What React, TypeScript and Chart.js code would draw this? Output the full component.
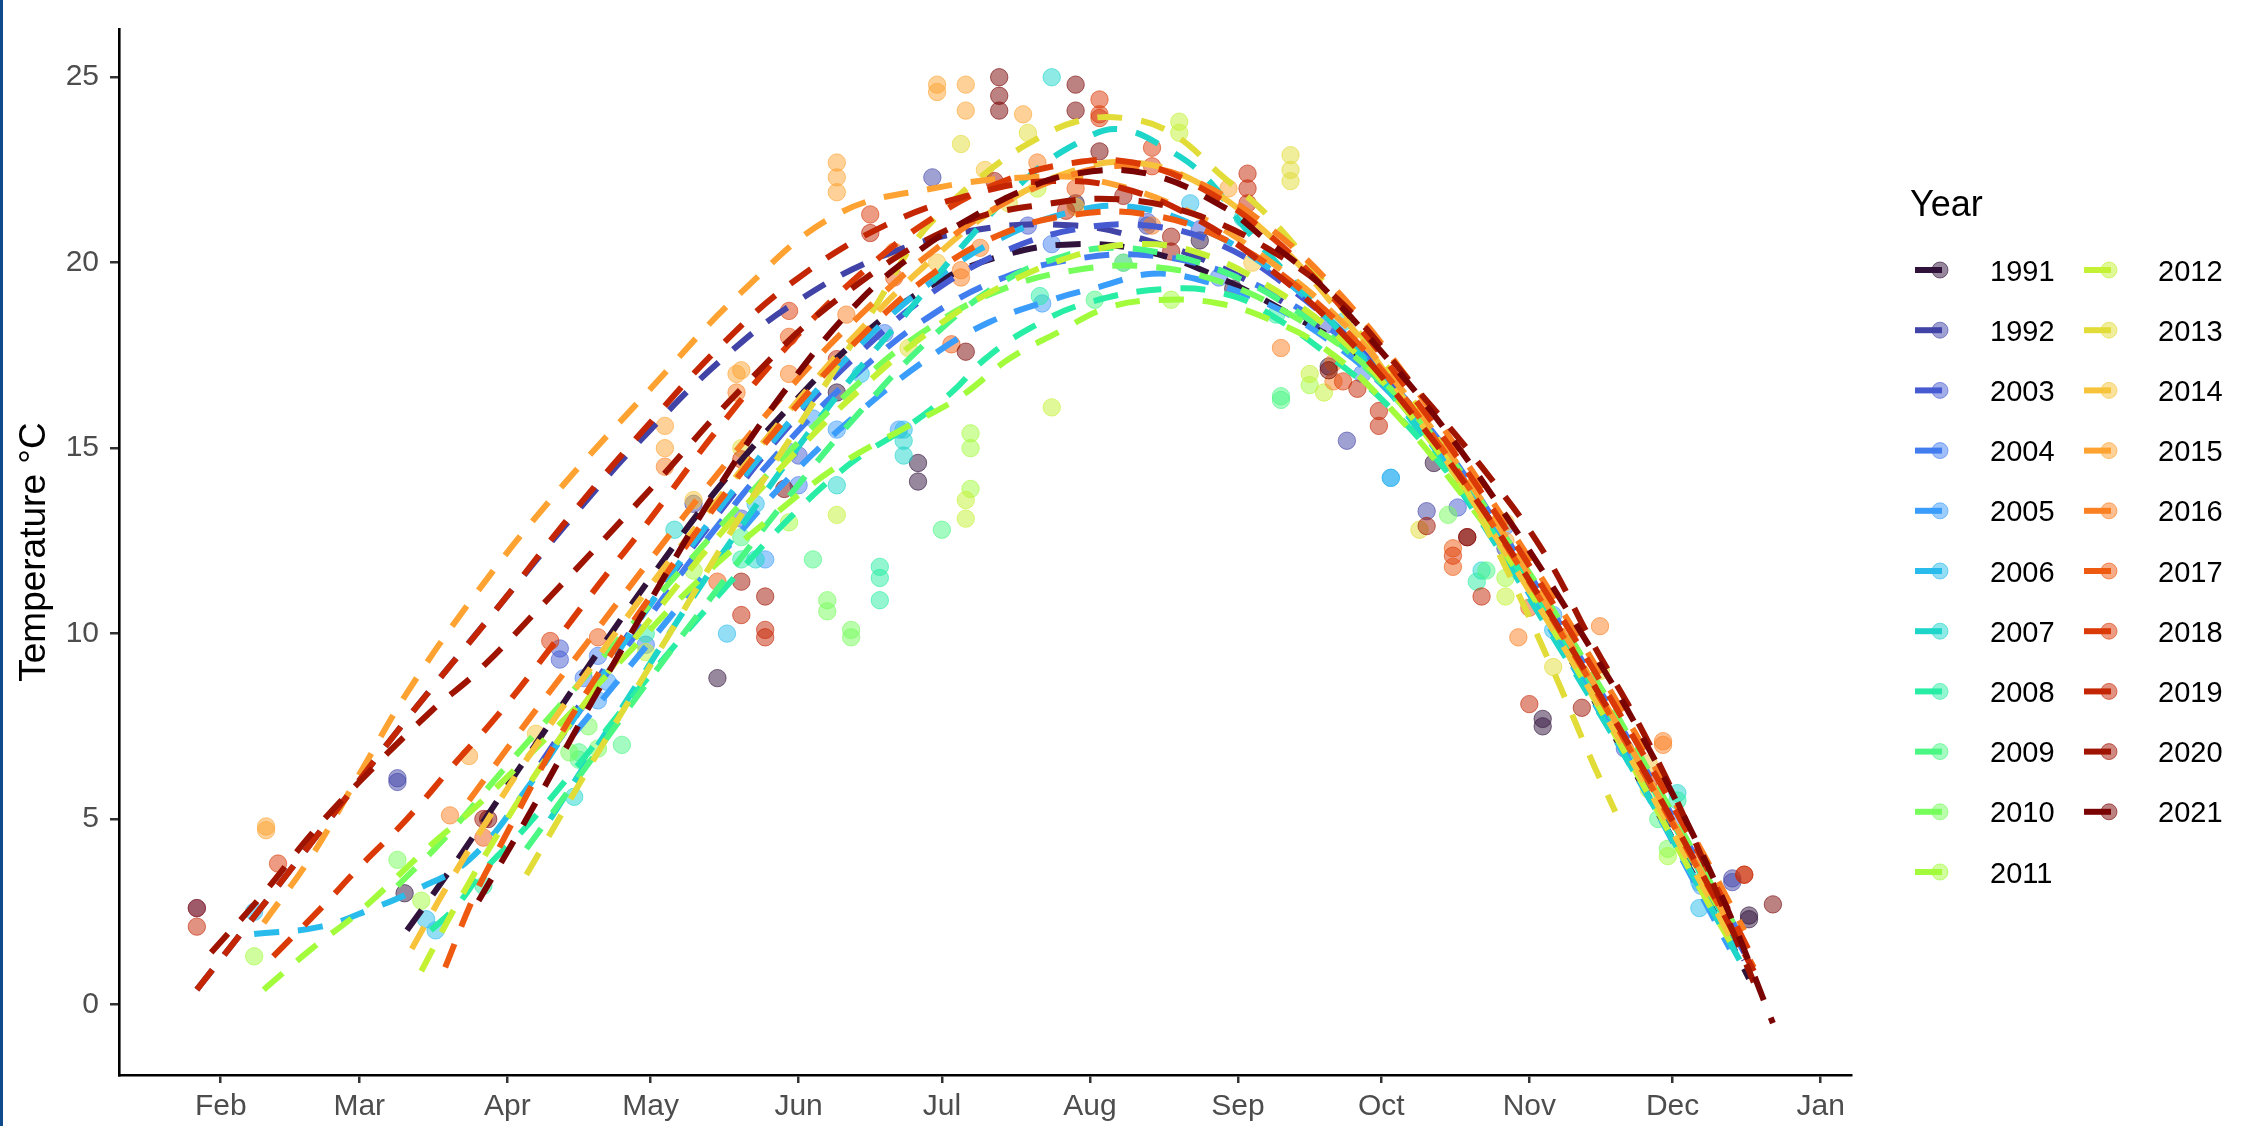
import React, { useEffect, useRef } from 'react';
import { Chart, registerables } from 'chart.js';

Chart.register(...registerables);

// ---------- data (day of year, leap-year based: Jan 1 = 0) ----------
const MONTH_DAYS = [31, 60, 91, 121, 152, 182, 213, 244, 274, 305, 335, 366];
const MONTH_LABELS = ['Feb', 'Mar', 'Apr', 'May', 'Jun', 'Jul', 'Aug', 'Sep', 'Oct', 'Nov', 'Dec', 'Jan'];
const Y_TICKS = [0, 5, 10, 15, 20, 25];

const YEARS = [1991, 1992, 2003, 2004, 2005, 2006, 2007, 2008, 2009, 2010, 2011, 2012, 2013, 2014, 2015, 2016, 2017, 2018, 2019, 2020, 2021];
const COLORS = ['#30123B', '#4143A7', '#465BD1', '#427DF0', '#3A9CFB', '#28BBEC', '#1ED5C9', '#28EDA4', '#4AF783', '#76FE5B', '#A2FC3C', '#C4F134', '#E1DC37', '#F6C33A', '#FEA331', '#FB8022', '#EF5A11', '#DB3A07', '#C42503', '#9F1301', '#7A0403'];

// fitted curves [day, °C]
const fit1991 = [[70, 2.0], [80, 3.8], [90, 5.7], [100, 7.6], [110, 9.5], [121, 11.5], [135, 13.9], [150, 16.1], [165, 18.0], [180, 19.4], [195, 20.2], [210, 20.5], [225, 20.3], [240, 19.6], [255, 18.6], [270, 17.4], [285, 15.3], [300, 12.3], [315, 9.0], [330, 5.6], [345, 2.2], [351, 0.7]];
const fit1992 = [[26, 0.4], [40, 2.7], [55, 5.2], [70, 7.7], [89, 10.7], [105, 13.2], [121, 15.5], [136, 17.4], [151, 18.9], [170, 20.2], [190, 20.9], [210, 21.0], [225, 20.6], [240, 19.9], [255, 18.8], [270, 17.3], [285, 15.2], [300, 12.4], [315, 9.2], [330, 5.9], [345, 2.4], [350, 1.2]];
const fit2003 = [[98, 6.5], [110, 8.8], [121, 10.8], [135, 13.2], [150, 15.6], [165, 17.6], [180, 19.2], [195, 20.3], [210, 20.9], [225, 21.0], [240, 20.5], [255, 19.3], [270, 17.6], [285, 15.3], [300, 12.5], [315, 9.4], [330, 6.1], [345, 2.6], [350, 1.4]];
const fit2004 = [[100, 6.8], [110, 8.6], [121, 10.5], [135, 12.9], [150, 15.2], [165, 17.1], [180, 18.6], [195, 19.6], [210, 20.1], [225, 20.2], [240, 19.8], [255, 18.9], [270, 17.5], [285, 15.4], [300, 12.6], [315, 9.5], [330, 6.2], [345, 2.8], [349, 1.9]];
const fit2005 = [[105, 7.3], [121, 9.8], [135, 12.0], [150, 14.2], [165, 16.0], [180, 17.5], [192, 18.4], [205, 19.0], [215, 19.35], [226, 19.7], [237, 19.5], [250, 18.9], [262, 18.0], [275, 16.6], [290, 14.3], [305, 11.3], [320, 8.0], [335, 4.4], [347, 1.5]];
const fit2006 = [[38, 1.9], [52, 2.1], [63, 2.6], [72, 3.1], [83, 3.9], [95, 5.8], [108, 8.3], [121, 10.8], [135, 13.3], [150, 15.7], [165, 17.8], [180, 19.5], [195, 20.7], [210, 21.4], [222, 21.5], [235, 21.0], [250, 19.9], [265, 18.2], [280, 15.9], [295, 13.1], [310, 10.0], [325, 6.7], [340, 3.3], [348, 1.5]];
const fit2007 = [[100, 5.0], [115, 8.0], [130, 11.0], [145, 13.8], [160, 16.4], [175, 18.7], [188, 20.7], [200, 22.3], [210, 23.2], [219, 23.6], [230, 23.0], [238, 22.2], [245, 21.0], [255, 19.6], [265, 18.2], [280, 15.8], [295, 13.0], [310, 9.9], [325, 6.7], [340, 3.3], [349, 1.2]];
const fit2008 = [[75, 2.0], [80, 2.6], [86, 3.6], [95, 4.8], [108, 6.8], [121, 8.9], [135, 11.0], [150, 13.1], [163, 14.6], [175, 15.6], [184, 16.5], [191, 17.4], [200, 18.2], [212, 18.9], [230, 19.3], [243, 19.1], [252, 18.5], [262, 17.6], [275, 16.2], [290, 14.0], [305, 11.3], [320, 8.2], [335, 4.9], [348, 1.8]];
const fit2009 = [[95, 4.2], [108, 6.5], [121, 8.8], [135, 11.2], [150, 13.7], [165, 16.0], [180, 18.0], [195, 19.5], [208, 20.2], [218, 20.4], [230, 20.2], [242, 19.7], [255, 18.8], [268, 17.5], [282, 15.6], [297, 13.0], [312, 9.9], [327, 6.7], [342, 3.2], [349, 1.6]];
const fit2010 = [[68, 3.2], [78, 4.5], [90, 6.3], [105, 8.5], [121, 10.8], [135, 12.8], [150, 14.9], [165, 16.8], [180, 18.3], [195, 19.3], [210, 19.8], [225, 19.9], [240, 19.5], [255, 18.6], [270, 17.3], [285, 15.3], [300, 12.6], [315, 9.6], [330, 6.3], [345, 2.8], [349, 1.9]];
const fit2011 = [[40, 0.4], [50, 1.5], [60, 2.5], [75, 4.3], [85, 5.4], [100, 7.3], [115, 9.3], [130, 11.3], [145, 13.0], [160, 14.5], [175, 15.6], [186, 16.4], [196, 17.4], [206, 18.1], [217, 18.8], [229, 19.0], [240, 18.9], [250, 18.5], [262, 17.7], [275, 16.2], [290, 13.9], [305, 11.2], [320, 8.2], [335, 4.9], [347, 2.0]];
const fit2012 = [[73, 0.9], [80, 2.6], [90, 4.8], [100, 6.8], [110, 8.6], [121, 10.4], [135, 12.6], [150, 14.7], [165, 16.6], [180, 18.2], [195, 19.4], [210, 20.2], [222, 20.5], [235, 20.3], [250, 19.4], [265, 18.0], [280, 15.9], [295, 13.2], [310, 10.1], [325, 6.8], [340, 3.3], [347, 1.7]];
const fit2013 = [[95, 3.5], [110, 6.8], [125, 10.0], [140, 13.2], [155, 16.2], [168, 18.8], [176, 20.5], [183, 21.5], [192, 22.5], [200, 23.2], [210, 23.8], [220, 23.9], [230, 23.5], [241, 22.3], [250, 21.3], [260, 19.8], [270, 18.0], [280, 16.4], [290, 14.3], [300, 11.8], [310, 9.0], [318, 6.6], [323, 5.2]];
const fit2014 = [[71, 1.5], [78, 3.1], [86, 4.8], [95, 6.6], [108, 9.0], [121, 11.3], [135, 13.6], [150, 16.0], [165, 18.2], [180, 20.1], [195, 21.6], [210, 22.5], [222, 22.7], [235, 22.2], [250, 20.8], [265, 18.7], [280, 16.1], [295, 13.2], [310, 10.1], [325, 6.9], [340, 3.5], [348, 1.6]];
const fit2015 = [[40, 2.2], [50, 4.0], [60, 6.2], [70, 8.4], [84, 11.0], [100, 13.6], [121, 16.6], [140, 19.2], [160, 21.3], [180, 22.0], [200, 22.3], [215, 22.2], [235, 21.3], [250, 20.1], [265, 18.5], [280, 16.3], [295, 13.6], [310, 10.5], [325, 7.2], [340, 3.8], [348, 1.9]];
const fit2016 = [[83, 5.5], [95, 7.6], [108, 9.8], [121, 12.0], [135, 14.3], [150, 16.6], [165, 18.6], [180, 20.3], [195, 21.6], [210, 22.4], [222, 22.6], [235, 22.2], [250, 21.0], [265, 19.2], [280, 16.8], [295, 14.0], [310, 11.0], [325, 7.8], [340, 4.4], [350, 2.0]];
const fit2017 = [[78, 1.0], [84, 2.9], [90, 4.4], [100, 6.8], [110, 8.9], [121, 11.0], [135, 13.5], [150, 15.9], [165, 18.0], [180, 19.7], [195, 20.8], [210, 21.3], [225, 21.3], [240, 20.7], [255, 19.5], [270, 17.7], [285, 15.3], [300, 12.4], [315, 9.3], [330, 6.0], [345, 2.6], [352, 1.0]];
const fit2018 = [[42, 1.3], [52, 2.6], [60, 3.7], [70, 5.0], [80, 6.5], [89, 7.8], [100, 9.6], [110, 11.3], [121, 13.1], [135, 15.5], [150, 17.8], [165, 19.7], [180, 21.2], [195, 22.2], [210, 22.7], [222, 22.7], [235, 22.1], [250, 20.8], [265, 18.9], [280, 16.5], [295, 13.8], [310, 10.8], [325, 7.6], [340, 4.2], [352, 1.2]];
const fit2019 = [[26, 0.4], [40, 2.7], [55, 5.2], [70, 7.7], [89, 10.7], [105, 13.3], [121, 15.7], [136, 17.8], [151, 19.5], [170, 21.0], [190, 21.9], [205, 22.2], [220, 22.0], [235, 21.2], [250, 19.9], [265, 18.2], [280, 16.0], [295, 13.4], [310, 10.4], [325, 7.2], [340, 3.8], [352, 0.9]];
const fit2020 = [[29, 1.4], [40, 3.0], [50, 4.6], [60, 6.0], [75, 7.9], [85, 9.0], [100, 11.0], [121, 13.9], [140, 16.6], [160, 19.0], [185, 21.0], [205, 21.6], [220, 21.7], [235, 21.3], [250, 20.4], [265, 19.0], [280, 16.8], [295, 14.5], [308, 12.2], [318, 9.8], [329, 7.3], [339, 4.6], [352, 0.6]];
const fit2021 = [[85, 2.8], [95, 5.0], [108, 8.0], [121, 10.9], [135, 13.9], [150, 16.7], [165, 19.0], [178, 20.4], [188, 21.2], [198, 21.9], [210, 22.4], [225, 22.4], [241, 21.5], [250, 20.6], [258, 19.8], [265, 18.9], [272, 17.9], [285, 15.9], [300, 13.2], [315, 10.2], [330, 6.9], [345, 3.0], [356, -0.5]];

// observations [day, °C]
const obs1991 = [[69.5, 3.0], [135, 8.8], [160, 16.5], [177, 14.6], [177, 14.1], [210, 21.6], [236, 20.6], [243, 19.3], [263, 17.2], [285, 14.6], [307.8, 7.7], [307.8, 7.5], [351, 2.4], [351, 2.3]];
const obs1992 = [[26, 2.6], [68, 6.1], [68, 6.0], [130, 13.5], [180, 22.3], [225, 21.0], [266.8, 15.2], [283.5, 13.3], [300, 12.3], [347.5, 3.4], [347.5, 3.3]];
const obs2003 = [[102, 9.6], [102, 9.3], [140, 13.1], [152, 14.8], [200, 21.0], [225, 21.1], [236, 20.9], [262, 18.3], [290, 13.4], [325, 6.9]];
const obs2004 = [[107, 8.8], [110, 9.4], [120, 9.7], [150, 14.9], [152, 14.0], [170, 18.1], [205, 20.5], [240, 19.6], [270, 17.0], [300, 12.9], [336, 5.0]];
const obs2005 = [[110, 8.2], [112, 8.7], [145, 12.0], [155, 15.8], [160, 15.5], [173, 15.5], [203, 18.9], [220, 20.0], [276, 14.2], [310, 10.5], [341, 3.2]];
const obs2006 = [[38, 2.5], [74, 2.3], [76, 2.0], [137, 10.0], [143, 13.5], [165, 17.0], [174, 15.5], [234, 21.6], [276, 14.2], [310, 10.1], [340.6, 3.3], [340.6, 2.6]];
const obs2007 = [[105, 5.6], [126, 12.8], [143, 12.0], [160, 14.0], [174, 14.8], [174, 15.2], [205, 25.0], [245, 21.2], [266, 18.4], [295, 11.7], [336, 5.7]];
const obs2008 = [[86, 3.2], [120, 10.0], [140, 12.0], [169, 11.8], [169, 11.5], [169, 10.9], [202.5, 19.1], [252, 18.6], [294, 11.4], [336, 5.5]];
const obs2009 = [[106, 6.8], [106, 6.6], [115, 7.0], [140, 12.6], [155, 12.0], [182, 12.8], [214, 19.0], [253, 16.4], [253, 16.3], [296, 11.7], [332, 5.0]];
const obs2010 = [[68, 3.9], [104, 6.8], [108, 7.5], [110, 6.9], [158, 10.9], [158, 10.6], [163, 9.9], [163, 10.1], [220, 20.0], [288, 13.2], [334, 4.2]];
const obs2011 = [[38, 1.3], [73, 2.8], [130, 11.7], [150, 13.0], [188, 15.0], [188, 15.4], [188, 13.9], [230, 19.0], [259, 16.7], [300, 11.5], [334, 4.0]];
const obs2012 = [[120, 9.5], [160, 13.2], [187, 13.6], [187, 13.1], [202, 22.0], [205, 16.1], [231.7, 23.8], [231.7, 23.5], [259, 17.0], [262, 16.5], [300, 11.0], [330, 5.8]];
const obs2013 = [[140, 15.0], [175, 17.7], [186, 23.2], [196, 21.6], [200, 23.5], [255, 22.9], [255, 22.5], [255, 22.2], [282, 12.8], [310, 9.1], [320, 9.0]];
const obs2014 = [[97, 7.3], [130, 13.6], [181, 20.0], [191, 22.5], [210, 21.5], [247, 20.0], [300, 13.0], [330, 6.5]];
const obs2015 = [[40.5, 4.8], [40.5, 4.7], [83, 6.7], [124, 15.6], [124, 15.0], [139, 17.0], [140, 17.1], [160, 22.7], [160, 22.3], [160, 21.9], [181, 24.8], [181, 24.6], [187, 24.8], [187, 24.1], [199, 24.0], [242, 22.0], [300, 12.5]];
const obs2016 = [[79, 5.1], [124, 14.5], [139, 16.5], [150, 17.0], [162, 18.6], [172, 20.3], [186, 19.8], [186, 19.6], [190, 20.4], [202, 22.7], [226, 21.0], [253, 17.7], [264, 17.3], [264, 16.8], [302.7, 9.9], [319.8, 10.2], [333, 7.1], [333, 7.0]];
const obs2017 = [[86, 4.5], [110, 9.9], [135, 11.4], [150, 18.0], [172, 19.6], [184, 17.8], [210, 22.0], [289, 12.3], [289, 11.8], [305, 10.7], [340, 4.0]];
const obs2018 = [[43, 3.8], [100, 9.8], [140, 14.7], [150, 18.7], [167, 21.3], [215, 24.4], [215, 24.0], [215, 23.9], [226, 23.1], [226, 22.6], [266, 16.8], [289, 12.1], [330, 6.0], [350, 3.5]];
const obs2019 = [[26, 2.1], [140, 10.5], [145, 10.1], [145, 9.9], [160, 17.4], [167, 20.8], [208, 21.4], [246, 22.4], [246, 22.0], [246, 21.6], [269, 16.6], [273.5, 16.0], [273.5, 15.6], [295, 11.0], [305, 8.1], [350, 3.5]];
const obs2020 = [[26, 2.6], [86, 5.0], [140, 11.4], [145, 11.0], [193, 22.2], [220, 21.8], [230, 20.7], [230, 20.3], [283.5, 12.9], [292, 12.6], [316, 8.0]];
const obs2021 = [[87, 5.0], [149, 13.9], [187, 17.6], [194, 25.0], [194, 24.5], [194, 24.1], [210, 24.8], [210, 24.1], [215, 23.0], [263, 17.1], [292, 12.6], [356, 2.7]];

const FITS = [fit1991, fit1992, fit2003, fit2004, fit2005, fit2006, fit2007, fit2008, fit2009, fit2010, fit2011, fit2012, fit2013, fit2014, fit2015, fit2016, fit2017, fit2018, fit2019, fit2020, fit2021];
const OBS = [obs1991, obs1992, obs2003, obs2004, obs2005, obs2006, obs2007, obs2008, obs2009, obs2010, obs2011, obs2012, obs2013, obs2014, obs2015, obs2016, obs2017, obs2018, obs2019, obs2020, obs2021];

// ---------- helpers ----------
const FONT = '"Liberation Sans", Arial, Helvetica, sans-serif';
const POINT_ALPHA = 0.5;

function rgba(hex: string, a: number): string {
  const n = parseInt(hex.slice(1), 16);
  return `rgba(${(n >> 16) & 255},${(n >> 8) & 255},${n & 255},${a})`;
}

const legendPlugin = {
  id: 'yearLegend',
  afterDraw(chart: any) {
    const ctx = chart.ctx as CanvasRenderingContext2D;
    ctx.save();
    ctx.fillStyle = '#000';
    ctx.font = `36px ${FONT}`;
    ctx.textBaseline = 'alphabetic';
    ctx.textAlign = 'left';
    ctx.fillText('Year', 1910, 216);
    const rowH = 60.2;
    YEARS.forEach((yr, i) => {
      const col = i < 11 ? 0 : 1;
      const row = i < 11 ? i : i - 11;
      const cy = 270 + row * rowH;
      const x0 = col === 0 ? 1915 : 2084;
      const tx = col === 0 ? 1990 : 2158;
      ctx.strokeStyle = COLORS[i];
      ctx.lineWidth = 6;
      ctx.lineCap = 'butt';
      ctx.beginPath();
      ctx.moveTo(x0, cy);
      ctx.lineTo(x0 + 27, cy);
      ctx.stroke();
      ctx.beginPath();
      ctx.arc(x0 + 25, cy, 8, 0, Math.PI * 2);
      ctx.fillStyle = rgba(COLORS[i], POINT_ALPHA);
      ctx.fill();
      ctx.lineWidth = 1;
      ctx.strokeStyle = rgba(COLORS[i], 0.6);
      ctx.stroke();
      ctx.fillStyle = '#000';
      ctx.font = `29px ${FONT}`;
      ctx.fillText(String(yr), tx, cy + 10.5);
    });
    ctx.restore();
  },
};

export default function App() {
  const ref = useRef<HTMLCanvasElement>(null);

  useEffect(() => {
    document.body.style.margin = '0';
    const canvas = ref.current;
    if (!canvas) return;
    const datasets: any[] = [];
    YEARS.forEach((yr, i) => {
      datasets.push({
        type: 'line',
        label: String(yr),
        data: FITS[i].map(([x, y]) => ({ x, y })),
        borderColor: COLORS[i],
        backgroundColor: COLORS[i],
        borderWidth: 6,
        borderDash: [25, 19],
        borderCapStyle: 'butt',
        pointRadius: 0,
        tension: 0.4,
        fill: false,
        clip: false,
        order: 20 - i,
      });
    });
    YEARS.forEach((yr, i) => {
      datasets.push({
        type: 'scatter',
        label: `${yr} obs`,
        data: OBS[i].map(([x, y]) => ({ x, y })),
        backgroundColor: rgba(COLORS[i], POINT_ALPHA),
        borderColor: rgba(COLORS[i], 0.6),
        borderWidth: 1,
        pointRadius: 8.7,
        showLine: false,
        clip: false,
        order: 100 + 20 - i,
      });
    });

    const chart = new Chart(canvas, {
      type: 'scatter',
      data: { datasets },
      plugins: [legendPlugin],
      options: {
        responsive: false,
        devicePixelRatio: 1,
        animation: false,
        events: [],
        layout: { padding: { left: 0, top: 10, right: 408.3, bottom: 0 } },
        plugins: { legend: { display: false }, tooltip: { enabled: false }, title: { display: false } },
        scales: {
          x: {
            type: 'linear',
            position: 'bottom',
            min: 9.7,
            max: 372.5,
            afterBuildTicks: (s: any) => {
              s.ticks = MONTH_DAYS.map((v) => ({ value: v }));
            },
            afterFit: (s: any) => {
              s.height = 51;
            },
            ticks: {
              autoSkip: false,
              maxRotation: 0,
              padding: 6,
              color: '#4D4D4D',
              font: { family: FONT, size: 30 },
              callback: (v: any) => {
                const k = MONTH_DAYS.indexOf(Number(v));
                return k >= 0 ? MONTH_LABELS[k] : '';
              },
            },
            grid: { display: true, drawOnChartArea: false, drawTicks: true, tickLength: 8, color: '#333333', lineWidth: 2.5 },
            border: { display: true, color: '#000000', width: 2.6 },
          },
          y: {
            type: 'linear',
            min: -1.9,
            max: 26.3,
            afterBuildTicks: (s: any) => {
              s.ticks = Y_TICKS.map((v) => ({ value: v }));
            },
            afterFit: (s: any) => {
              s.width = 119;
            },
            ticks: {
              padding: 11,
              color: '#4D4D4D',
              font: { family: FONT, size: 30 },
            },
            grid: { display: true, drawOnChartArea: false, drawTicks: true, tickLength: 9, color: '#333333', lineWidth: 2.5 },
            border: { display: true, color: '#000000', width: 2.6 },
            title: {
              display: true,
              text: 'Temperature °C',
              color: '#000000',
              font: { family: FONT, size: 37 },
              padding: { top: 13, bottom: 0 },
            },
          },
        },
      },
    } as any);
    return () => chart.destroy();
  }, []);

  return (
    <div style={{ position: 'fixed', left: 0, top: 0, width: 2260, height: 1126, background: '#ffffff' }}>
      <canvas ref={ref} width={2260} height={1126} style={{ width: 2260, height: 1126, display: 'block' }} />
      <div style={{ position: 'absolute', left: 0, top: 0, width: 3, height: 1126, background: '#0E4A8C' }} />
    </div>
  );
}
